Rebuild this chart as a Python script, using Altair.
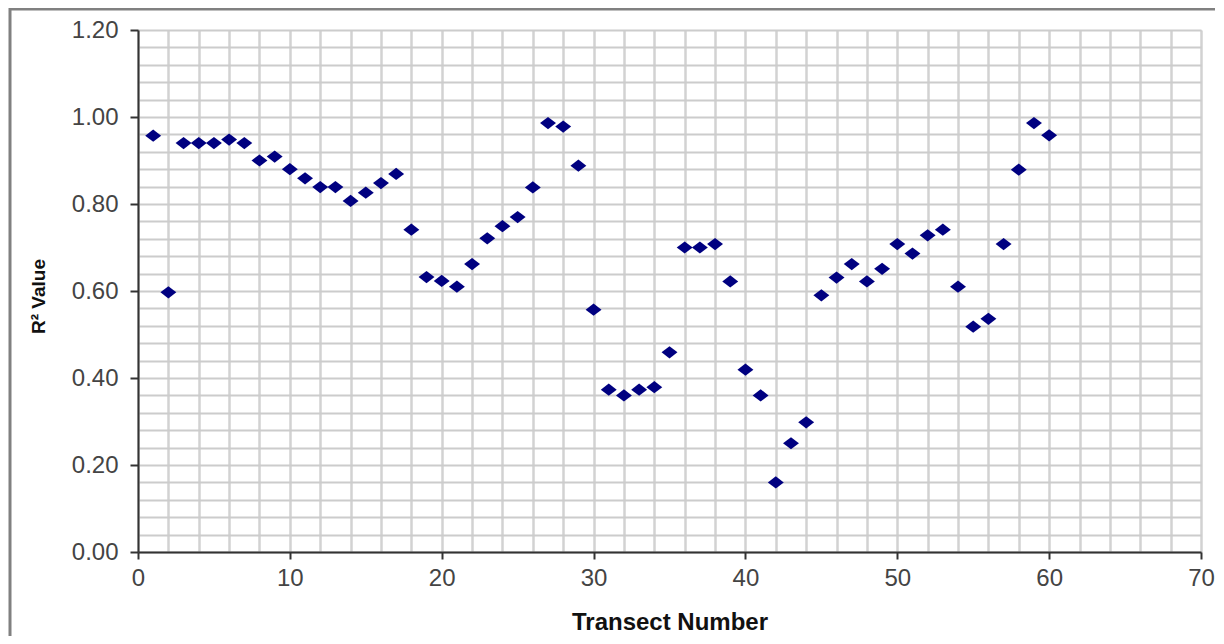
import altair as alt
import pandas as pd

transect = list(range(1, 61))
r2_values = [
    0.957, 0.597, 0.940, 0.940, 0.940, 0.948, 0.940, 0.900, 0.909, 0.880,
    0.859, 0.839, 0.839, 0.807, 0.826, 0.848, 0.869, 0.741, 0.632, 0.623,
    0.610, 0.662, 0.721, 0.749, 0.770, 0.838, 0.986, 0.978, 0.888, 0.557,
    0.373, 0.360, 0.373, 0.379, 0.459, 0.700, 0.700, 0.708, 0.622, 0.419,
    0.360, 0.160, 0.250, 0.298, 0.590, 0.631, 0.662, 0.622, 0.651, 0.708,
    0.686, 0.728, 0.741, 0.610, 0.518, 0.536, 0.708, 0.879, 0.986, 0.958,
]
x_grid = list(range(0, 71, 2))
y_grid = [round(i * 0.04, 2) for i in range(31)]

df = pd.DataFrame({"Transect": transect, "R2": r2_values})

W, H = 1063, 522

x_major = "abs(datum.value / 10 - round(datum.value / 10)) < 0.001"
y_major = "abs(datum.value * 5 - round(datum.value * 5)) < 0.001"

points = alt.Chart(df).mark_point(
    shape="M-1.3,0L0,-1L1.3,0L0,1Z", filled=True, color="#000080", opacity=1, size=150
).encode(
    x=alt.X("Transect:Q",
            scale=alt.Scale(domain=[0, 70], nice=False, zero=True),
            axis=alt.Axis(
                values=x_grid,
                title="Transect Number",
                titleFont="Liberation Sans", titleFontSize=24, titleFontWeight="bold",
                titleColor="#111111", titleBaseline="alphabetic", titleY=77,
                labelExpr=f"({x_major}) ? datum.label : ''",
                labelFont="Liberation Sans", labelFontSize=24, labelColor="#444444",
                labelFlush=False, labelOverlap=False, labelPadding=7,
                tickSize=7, tickWidth=2, tickColor="#333333",
                tickOpacity={"condition": {"test": x_major, "value": 1}, "value": 0},
                domainColor="#333333", domainWidth=2,
                grid=True, gridColor="#d2d2d2", gridWidth=2.5,
            )),
    y=alt.Y("R2:Q",
            scale=alt.Scale(domain=[0, 1.2], nice=False),
            axis=alt.Axis(
                values=y_grid,
                title="R² Value",
                titleFont="Liberation Sans", titleFontSize=19, titleFontWeight="bold",
                titleColor="#111111", titleAngle=-90, titleAlign="center",
                titleBaseline="alphabetic", titleX=-94, titleY=266,
                labelExpr=f"({y_major}) ? format(datum.value, '.2f') : ''",
                labelFont="Liberation Sans", labelFontSize=24, labelColor="#444444",
                labelOverlap=False, labelPadding=12, labelFlush=False,
                tickSize=8, tickWidth=2, tickColor="#333333",
                tickOpacity={"condition": {"test": y_major, "value": 1}, "value": 0},
                domainColor="#333333", domainWidth=2,
                grid=True, gridColor="#cccccc", gridWidth=2,
            )),
)

frame = alt.Chart(pd.DataFrame({"k": [0]})).mark_rect(
    fill=None, filled=False, stroke="#808080", strokeWidth=3, clip=False
).encode(
    x=alt.value(-128), x2=alt.value(W + 200),
    y=alt.value(-21), y2=alt.value(H + 200),
)

chart = alt.layer(frame, points).properties(
    width=W, height=H,
    autosize=alt.AutoSizeParams(type="none"),
    padding={"left": 130, "top": 22, "right": 14, "bottom": 84},
).configure_view(stroke=None).configure(background="white")

chart.save("out.html", embed_options={"renderer": "svg", "actions": False})
